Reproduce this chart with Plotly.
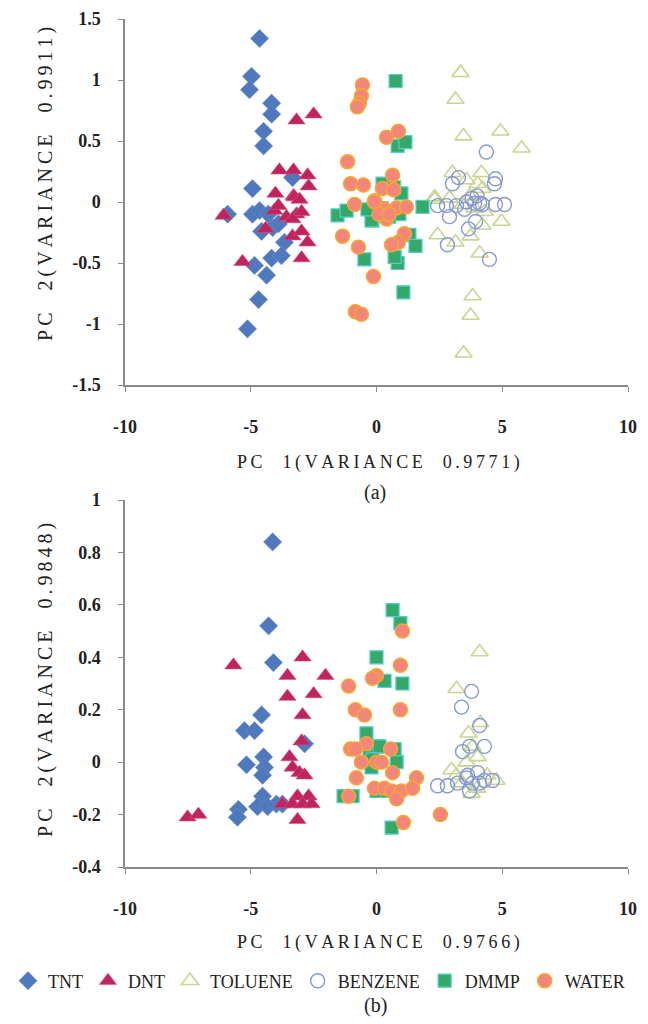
import plotly.graph_objects as go

# ---------------- data (a) ----------------
TNT_a_x = [-4.65, -4.97, -5.05, -4.17, -4.17, -4.49, -4.49, -4.93, -3.34, -5.92, -4.93, -4.65, -4.57, -4.13, -3.66, -4.17, -3.78, -4.85, -4.37, -4.69, -5.13, -4.3, -3.9]
TNT_a_y = [1.34, 1.03, 0.92, 0.81, 0.72, 0.58, 0.46, 0.11, 0.20, -0.10, -0.10, -0.07, -0.24, -0.21, -0.33, -0.46, -0.44, -0.52, -0.60, -0.80, -1.04, -0.10, -0.18]

DNT_a_x = [-3.18, -2.5, -3.86, -3.3, -2.74, -2.7, -4.02, -3.3, -6.08, -3.26, -3.06, -4.06, -3.58, -3.18, -2.98, -3.34, -4.41, -3.34, -2.98, -2.74, -2.98, -5.33, -3.9]
DNT_a_y = [0.67, 0.72, 0.26, 0.26, 0.22, 0.13, 0.07, 0.05, -0.11, 0.04, 0.02, -0.07, -0.12, -0.10, -0.08, -0.14, -0.22, -0.28, -0.24, -0.33, -0.46, -0.49, -0.03]

TOL_a_x = [3.34, 3.14, 3.46, 4.93, 5.77, 3.02, 4.17, 3.58, 4.02, 4.21, 2.31, 2.31, 2.9, 3.42, 4.97, 4.21, 2.43, 3.14, 3.74, 4.1, 3.82, 3.74, 3.46, 3.9, 4.3, 3.7]
TOL_a_y = [1.06, 0.84, 0.54, 0.58, 0.44, 0.24, 0.24, 0.18, 0.15, 0.11, 0.04, 0.02, 0.03, -0.02, -0.16, -0.19, -0.27, -0.33, -0.28, -0.42, -0.77, -0.93, -1.24, -0.05, -0.08, 0.05]

BEN_a_x = [4.37, 4.73, 3.26, 3.02, 2.43, 2.78, 3.18, 3.58, 3.9, 4.1, 4.21, 4.73, 5.09, 4.69, 2.9, 3.94, 3.66, 2.82, 4.49, 3.8, 4.0, 3.5]
BEN_a_y = [0.41, 0.19, 0.20, 0.15, -0.03, -0.03, -0.03, 0.0, -0.01, -0.01, -0.02, -0.02, -0.02, 0.15, -0.12, -0.16, -0.22, -0.35, -0.47, 0.03, 0.05, -0.06]

DMMP_a_x = [0.76, 0.84, 1.15, 0.24, 0.99, 1.83, -0.16, 0.91, 1.31, 1.55, 0.84, 0.72, 1.07, -1.55, -1.19, -0.2, -0.48, -0.36, 0.7, 0.2, 0.5]
DMMP_a_y = [0.99, 0.46, 0.49, 0.15, 0.07, -0.04, -0.15, -0.10, -0.27, -0.36, -0.50, -0.45, -0.74, -0.11, -0.07, -0.15, -0.47, -0.06, 0.12, -0.05, -0.12]

WATER_a_x = [-0.56, -0.6, -0.68, -0.76, -1.15, -1.03, -0.52, 0.4, 0.87, 0.64, 0.24, 0.68, -0.08, 0.32, 0.8, 1.19, 0.4, 1.11, 0.87, 0.6, -1.35, -0.72, -0.12, -0.84, -0.6, -0.87, -0.08, 0.1, 0.5]
WATER_a_y = [0.96, 0.87, 0.81, 0.78, 0.33, 0.15, 0.14, 0.53, 0.58, 0.22, 0.11, 0.10, 0.01, -0.06, -0.05, -0.04, -0.14, -0.26, -0.33, -0.35, -0.28, -0.37, -0.61, -0.90, -0.92, -0.02, 0.0, -0.10, -0.10]

# ---------------- data (b) ----------------
TNT_b_x = [-4.13, -4.29, -4.1, -4.57, -5.25, -4.85, -4.49, -5.17, -4.45, -4.53, -4.53, -4.73, -4.33, -3.98, -3.74, -5.49, -5.53, -2.86]
TNT_b_y = [0.84, 0.52, 0.38, 0.18, 0.12, 0.12, 0.02, -0.01, -0.02, -0.05, -0.13, -0.17, -0.17, -0.16, -0.16, -0.18, -0.21, 0.07]

DNT_b_x = [-5.69, -2.94, -3.54, -2.03, -3.54, -2.5, -2.94, -2.98, -3.46, -3.34, -3.06, -2.86, -7.51, -7.08, -3.74, -3.14, -2.7, -3.34, -2.94, -3.14, -2.58]
DNT_b_y = [0.37, 0.40, 0.33, 0.33, 0.25, 0.26, 0.18, 0.08, 0.02, -0.02, -0.04, -0.05, -0.21, -0.20, -0.16, -0.13, -0.13, -0.16, -0.16, -0.22, -0.16]

TOL_b_x = [4.1, 3.18, 4.13, 3.66, 4.02, 3.58, 2.98, 4.77, 3.78, 3.18, 3.82, 4.0, 4.4, 3.4]
TOL_b_y = [0.42, 0.28, 0.15, 0.11, 0.02, 0.0, -0.03, -0.07, -0.12, -0.05, 0.06, -0.10, -0.05, -0.08]

BEN_b_x = [3.78, 3.38, 4.1, 3.7, 3.42, 4.29, 2.43, 2.82, 3.22, 3.58, 3.82, 4.1, 4.29, 4.61, 4.02, 3.7, 3.62]
BEN_b_y = [0.27, 0.21, 0.14, 0.06, 0.04, 0.06, -0.09, -0.09, -0.08, -0.06, -0.08, -0.08, -0.07, -0.07, -0.04, -0.11, -0.05]

DMMP_b_x = [0.64, 0.95, 0.0, 0.32, 1.03, -0.4, 0.04, -0.28, -0.2, -1.31, -0.95, 0.0, 0.12, 0.72, 0.8, -0.16, 0.0, 0.4, 0.6]
DMMP_b_y = [0.58, 0.53, 0.40, 0.31, 0.30, 0.11, 0.06, 0.02, -0.02, -0.13, -0.13, 0.06, 0.06, 0.05, 0.0, 0.01, -0.11, -0.11, -0.25]

WATER_b_x = [1.03, 0.95, 0.0, -0.16, -1.11, -0.84, -0.48, -0.4, -1.03, -0.84, -0.6, -0.8, -1.11, 0.0, -0.08, 0.95, 0.56, 0.2, 0.64, 1.59, 0.32, 0.6, 0.99, 1.43, 0.8, 1.07, 2.54]
WATER_b_y = [0.50, 0.37, 0.33, 0.32, 0.29, 0.20, 0.18, 0.07, 0.05, 0.05, 0.0, -0.06, -0.13, 0.0, -0.10, 0.20, 0.05, 0.0, -0.04, -0.06, -0.10, -0.11, -0.11, -0.10, -0.14, -0.23, -0.20]

SERIES = ["TNT", "DNT", "TOLUENE", "BENZENE", "DMMP", "WATER"]
X_TICKS = [-10, -5, 0, 5, 10]
X_TICK_LABELS = ["-10", "-5", "0", "5", "10"]
Y_TICKS_A = [-1.5, -1, -0.5, 0, 0.5, 1, 1.5]
Y_TICK_LABELS_A = ["-1.5", "-1", "-0.5", "0", "0.5", "1", "1.5"]
Y_TICKS_B = [-0.4, -0.2, 0, 0.2, 0.4, 0.6, 0.8, 1]
Y_TICK_LABELS_B = ["-0.4", "-0.2", "0", "0.2", "0.4", "0.6", "0.8", "1"]
X_TITLE_A = "PC  1(VARIANCE  0.9771)"
Y_TITLE_A = "PC  2(VARIANCE  0.9911)"
X_TITLE_B = "PC  1(VARIANCE  0.9766)"
Y_TITLE_B = "PC  2(VARIANCE  0.9848)"

data_a = {
    "TNT": (TNT_a_x, TNT_a_y), "DNT": (DNT_a_x, DNT_a_y), "TOLUENE": (TOL_a_x, TOL_a_y),
    "BENZENE": (BEN_a_x, BEN_a_y), "DMMP": (DMMP_a_x, DMMP_a_y), "WATER": (WATER_a_x, WATER_a_y),
}
data_b = {
    "TNT": (TNT_b_x, TNT_b_y), "DNT": (DNT_b_x, DNT_b_y), "TOLUENE": (TOL_b_x, TOL_b_y),
    "BENZENE": (BEN_b_x, BEN_b_y), "DMMP": (DMMP_b_x, DMMP_b_y), "WATER": (WATER_b_x, WATER_b_y),
}

styles = {
    "TNT": dict(symbol="diamond", size=14, color="#4f78bd", line=dict(width=0.6, color="#6d8fcc")),
    "DNT": dict(symbol="triangle-up", size=15, color="#c0245e", line=dict(width=0.6, color="#d0557f")),
    "TOLUENE": dict(symbol="triangle-up-open", size=15, color="#c6d690", line=dict(width=1.6)),
    "BENZENE": dict(symbol="circle-open", size=14, color="#8799d0", line=dict(width=1.4)),
    "DMMP": dict(symbol="square", size=13, color="#36a86a", line=dict(width=1.2, color="#4fd0c8")),
    "WATER": dict(symbol="circle", size=14, color="#f2867a", line=dict(width=1.5, color="#f9a531")),
}

FONT = "'Times New Roman', 'Liberation Serif', serif"
fig = go.Figure()

for name in SERIES:
    x, y = data_a[name]
    fig.add_trace(go.Scatter(x=x, y=y, mode="markers", name=name, legendgroup=name,
                             marker=styles[name], xaxis="x", yaxis="y", showlegend=True))
for name in SERIES:
    x, y = data_b[name]
    fig.add_trace(go.Scatter(x=x, y=y, mode="markers", name=name, legendgroup=name,
                             marker=styles[name], xaxis="x2", yaxis="y2", showlegend=False))

W, H = 648, 1024
OFF = 8  # page body margin
def dom_x(l, r):
    return [(l - OFF) / W, (r - OFF) / W]
def dom_y(top, bot):
    return [1 - (bot - OFF) / H, 1 - (top - OFF) / H]

axis_common = dict(showgrid=False, zeroline=False, showline=True, linecolor="#8a8a8a", linewidth=1.5,
                   ticks="outside", ticklen=5, tickcolor="#8a8a8a", tickwidth=1, automargin=False,
                   ticklabeloverflow="allow",
                   tickfont=dict(family=FONT, size=18, color="#222222", weight="bold"))

fig.update_layout(
    width=W, height=H, autosize=False,
    margin=dict(l=0, r=0, t=0, b=0, autoexpand=False),
    paper_bgcolor="white", plot_bgcolor="white",
    font=dict(family=FONT, color="#222222"),
    xaxis=dict(domain=dom_x(125, 628), range=[-10, 10], tickvals=X_TICKS, ticktext=X_TICK_LABELS,
               anchor="y", ticklabelstandoff=20, **axis_common),
    yaxis=dict(domain=dom_y(19, 385), range=[-1.5, 1.5], tickvals=Y_TICKS_A, ticktext=Y_TICK_LABELS_A,
               anchor="x", ticklabelstandoff=14, **axis_common),
    xaxis2=dict(domain=dom_x(125, 628), range=[-10, 10], tickvals=X_TICKS, ticktext=X_TICK_LABELS,
                anchor="y2", ticklabelstandoff=20, **axis_common),
    yaxis2=dict(domain=dom_y(500, 867), range=[-0.4, 1], tickvals=Y_TICKS_B, ticktext=Y_TICK_LABELS_B,
                anchor="x2", ticklabelstandoff=14, **axis_common),
    legend=dict(orientation="h", x=0.0, xanchor="left", y=1 - (981 - OFF) / H, yanchor="middle",
                font=dict(family=FONT, size=18, color="#222222"), bgcolor="rgba(0,0,0,0)",
                itemclick=False),
)

def spaced(s, sep="\u2009"):
    out = []
    for ch in s:
        out.append("\u00a0" if ch == " " else ch)
    return sep.join(out)

def ann(text, x, y, size, angle=0):
    fig.add_annotation(text=text, x=(x - OFF) / W, y=1 - (y - OFF) / H, xref="paper", yref="paper",
                       showarrow=False, textangle=angle, xanchor="center", yanchor="middle",
                       font=dict(family=FONT, size=size, color="#222222"))

ann(spaced(X_TITLE_A), 378, 462, 18)
ann(spaced(X_TITLE_B), 378, 942, 18)
ann(spaced(Y_TITLE_A), 45, 184, 20, -90)
ann(spaced(Y_TITLE_B), 45, 680, 20, -90)
ann("(a)", 375, 492, 20)
ann("(b)", 375, 1005, 20)

fig.write_html("out.html")
